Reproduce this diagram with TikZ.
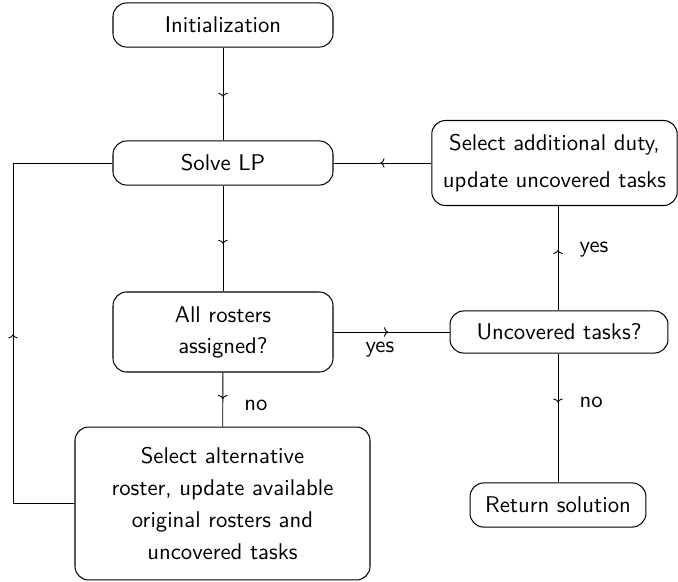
\documentclass[tikz,border=0pt]{standalone}
\usetikzlibrary{decorations.markings,arrows.meta}
\begin{document}
\begin{tikzpicture}[x=0.44pt,y=-0.44pt,
  box/.style={draw,rounded corners=6pt,align=center,font=\sffamily,inner sep=0pt,line width=0.45pt},
  midarrow/.style={postaction={decorate},decoration={markings,mark=at position #1 with {\arrow{To[length=1.8pt,width=4.2pt]}}}},
  midarrow/.default=0.5,
  conn/.style={line width=0.4pt},
  lbl/.style={font=\sffamily}]
\useasboundingbox (0,0) rectangle (678,581);
\node[box,minimum width=96.8pt,minimum height=19.4pt] (init) at (223,25) {Initialization};
\node[box,minimum width=96.8pt,minimum height=19.4pt] (solve) at (223,163) {Solve LP};
\node[box,minimum width=108pt,minimum height=37.4pt,font=\sffamily\fontsize{10}{16.3}\selectfont] (add) at (554.5,163) {Select additional duty,\\update uncovered tasks};
\node[box,minimum width=96.8pt,minimum height=35.2pt,font=\sffamily\fontsize{10}{13.6}\selectfont] (all) at (223,332) {All rosters\\assigned?};
\node[box,minimum width=95.9pt,minimum height=18.5pt] (unc) at (559,332) {Uncovered tasks?};
\node[box,minimum width=129.8pt,minimum height=67.3pt,font=\sffamily\fontsize{10}{14.1}\selectfont] (alt) at (222.5,503.5) {Select alternative\\roster, update available\\original rosters and\\uncovered tasks};
\node[box,minimum width=77.4pt,minimum height=19.4pt] (ret) at (558,505) {Return solution};
\coordinate (lp) at (13,503.5);
\draw[conn,midarrow=0.53] (init) -- (solve);
\draw[conn,midarrow=0.55] (solve) -- (all);
\draw[conn,midarrow=0.49] (all) -- node[lbl,right=6pt,pos=0.6] {no} (alt);
\draw[conn,midarrow=0.47] (all.east) -- node[lbl,below=1pt,pos=0.4] {yes} (unc.west);
\draw[conn,midarrow=0.58] (unc.north -| 558,0) -- node[lbl,right=6pt,pos=0.58] {yes} (add.south -| 558,0);
\draw[conn,midarrow=0.52] (add.west) -- (solve.east);
\draw[conn,midarrow=0.38] (unc.south -| 558,0) -- node[lbl,right=6pt,pos=0.38] {no} (ret.north -| 558,0);
\draw[conn,midarrow=0.46] (alt.west) -- (lp) |- (solve.west);
\end{tikzpicture}
\end{document}
